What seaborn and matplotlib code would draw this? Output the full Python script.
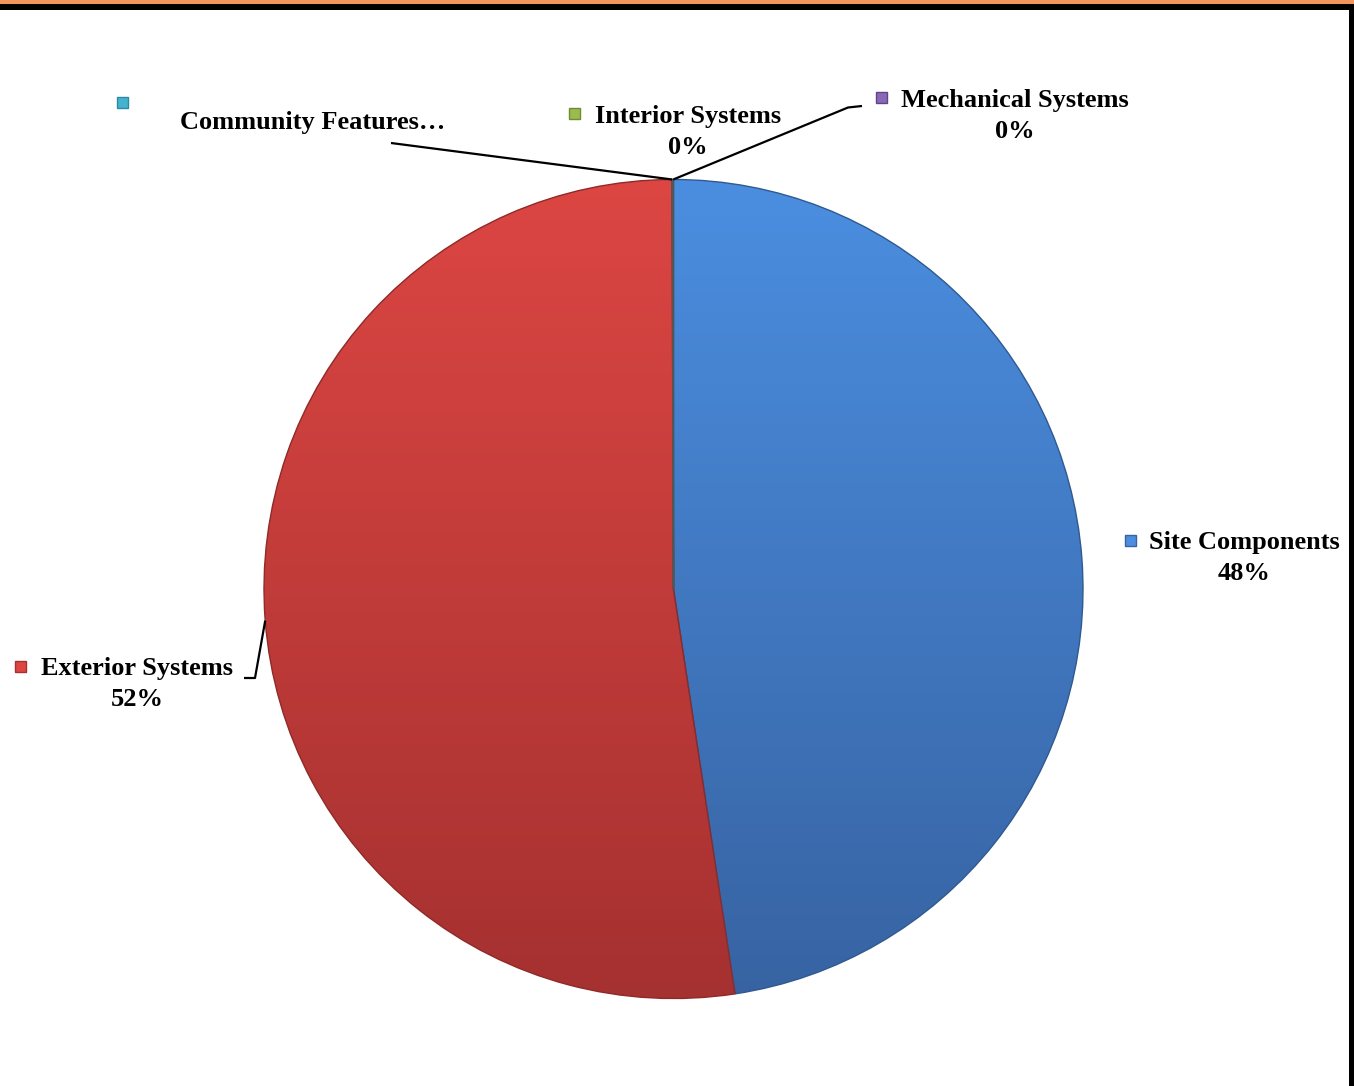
import numpy as np
import matplotlib
matplotlib.use("Agg")
import matplotlib.pyplot as plt
from matplotlib.patches import Rectangle
import matplotlib.colors as mcolors
import seaborn as sns

# ---- data ----
categories = ["Site Components", "Exterior Systems", "Community Features",
              "Interior Systems", "Mechanical Systems"]
values = [47.6, 52.34, 0.02, 0.02, 0.02]
label_texts = ["Site Components", "Exterior Systems", "Community Features\u2026",
               "Interior Systems", "Mechanical Systems"]
show_pct = [True, True, False, True, True]

# ---- style ----
sns.set_theme(style="white")
plt.rcParams["font.family"] = ["Liberation Serif", "DejaVu Serif"]

W, H = 1354, 1086
fig = plt.figure(figsize=(W / 100, H / 100), dpi=100)
ax = fig.add_axes([0, 0, 1, 1])
ax.set_xlim(0, W)
ax.set_ylim(0, H)
ax.set_aspect("equal")
ax.axis("off")

def Y(py):
    return H - py

# gradient colours (top, bottom) and marker colours
grad = {
    "Site Components": ("#4B8EE0", "#3763A2"),
    "Exterior Systems": ("#DC4643", "#A53130"),
    "Community Features": ("#45B3CF", "#2C8AA3"),
    "Interior Systems": ("#9BBB4F", "#6E8B35"),
    "Mechanical Systems": ("#8A68B5", "#5E4587"),
}
edge = {
    "Site Components": "#2F5990",
    "Exterior Systems": "#8E2A28",
    "Community Features": "#555555",
    "Interior Systems": "#555555",
    "Mechanical Systems": "#555555",
}

cx, cy, R = 673.5, Y(589), 409.5
wedges, _ = ax.pie(values, startangle=90, counterclock=False,
                   center=(cx, cy), radius=R, frame=True,
                   wedgeprops=dict(linewidth=1.0))
ax.set_xlim(0, W)
ax.set_ylim(0, H)
ax.axis("off")

for w, cat in zip(wedges, categories):
    top, bot = grad[cat]
    w.set_edgecolor(edge[cat])
    w.set_facecolor(top)
    cmap = mcolors.LinearSegmentedColormap.from_list("g", [bot, top])
    gradient = np.linspace(0, 1, 256).reshape(-1, 1)
    im = ax.imshow(gradient, cmap=cmap, origin="lower", aspect="auto",
                   extent=[cx - R, cx + R, cy - R, cy + R], zorder=w.get_zorder())
    im.set_clip_path(w)

for w in wedges:
    w.set_zorder(3)
    w.set_facecolor("none")

def mid_point(w, r=R):
    a = np.deg2rad((w.theta1 + w.theta2) / 2)
    return cx + r * np.cos(a), cy + r * np.sin(a)

font = dict(fontsize=19, fontweight="bold", color="black",
            family=["Liberation Serif", "DejaVu Serif"])

def marker(px, py, cat, s=11):
    top, bot = grad[cat]
    ax.add_patch(Rectangle((px - s / 2, Y(py) - s / 2), s, s,
                           facecolor=top, edgecolor=bot, lw=1.0, zorder=5))

# label layout: (text center x, text center y, marker x, marker y)
layout = {
    "Site Components": (1244, 543, 1130, 540),
    "Exterior Systems": (137, 669, 20, 666),
    "Community Features": (313, 122, 122, 102),
    "Interior Systems": (688, 117, 574, 113),
    "Mechanical Systems": (1015, 101, 881, 97),
}

for cat, txt, v, sp in zip(categories, label_texts, values, show_pct):
    tx, ty, mx, my = layout[cat]
    ax.text(tx, Y(ty), txt, ha="center", va="center", **font)
    if sp:
        ax.text(tx, Y(ty + 30), f"{round(v)}%", ha="center", va="center", **font)
    marker(mx, my, cat)

# leader lines
lk = dict(color="black", lw=1.6, zorder=6, solid_capstyle="butt")
w_ext = wedges[categories.index("Exterior Systems")]
ex, ey = mid_point(w_ext)
ax.plot([ex, 255, 244], [ey, Y(678), Y(678)], **lk)
w_com = wedges[categories.index("Community Features")]
px, py = mid_point(w_com)
ax.plot([px, 391], [py, Y(143)], **lk)
w_mec = wedges[categories.index("Mechanical Systems")]
px, py = mid_point(w_mec)
ax.plot([px, 848, 862], [py, Y(107.5), Y(106)], **lk)

# frame decorations
ax.add_patch(Rectangle((0, Y(4)), W, 4, facecolor="#F4955E", edgecolor="none", zorder=10))
ax.add_patch(Rectangle((0, Y(10)), W, 6, facecolor="black", edgecolor="none", zorder=10))
ax.add_patch(Rectangle((1349, 0), 5, Y(4), facecolor="black", edgecolor="none", zorder=10))

fig.savefig("out.png", dpi=100)
